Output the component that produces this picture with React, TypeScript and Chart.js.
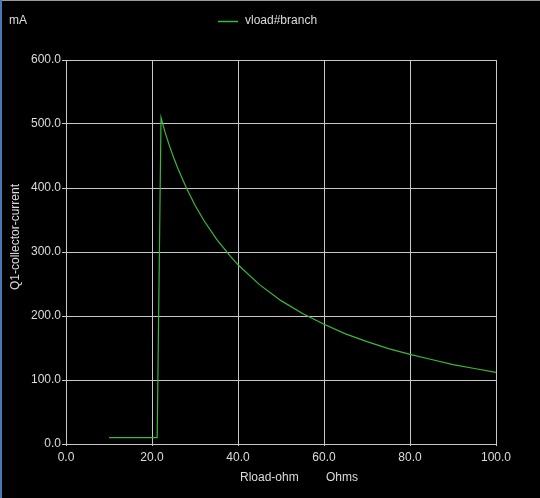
import React, { useEffect, useRef } from "react";
import { Chart, registerables } from "chart.js";

Chart.register(...registerables);

const seriesName = "vload#branch";
const rload = [10, 21.2, 22.1, 23, 24, 25, 26, 28, 30, 32, 35, 38, 40, 45, 50, 55, 60, 65, 70, 75, 80, 85, 90, 95, 100];
const current = [10, 10, 510, 488, 467, 448, 431, 400, 373, 350, 320, 295, 280, 249, 224, 204, 187, 172, 160, 149, 140, 132, 124, 118, 112];
const yTitle = "Q1-collector-current";
const yUnit = "mA";
const xTitle = "Rload-ohm";
const xUnit = "Ohms";

const FONT = "'Liberation Sans', Arial, sans-serif";
const TEXT = "#dcdcdc";
const GRID = "#c8c8c8";
const LINE = "#3cb83c";

const textPlugin = {
  id: "texts",
  afterDraw(chart: any) {
    const { ctx } = chart;
    ctx.save();
    ctx.fillStyle = TEXT;
    ctx.font = `12px ${FONT}`;
    ctx.textBaseline = "middle";
    ctx.textAlign = "left";
    ctx.fillText(yUnit, 9, 21);
    // legend
    ctx.strokeStyle = LINE;
    ctx.lineWidth = 1.5;
    ctx.beginPath();
    ctx.moveTo(218, 21.5);
    ctx.lineTo(238, 21.5);
    ctx.stroke();
    ctx.fillText(seriesName, 245, 21);
    // x title
    ctx.fillText(xTitle, 240, 478);
    ctx.fillText(xUnit, 326, 478);
    // y title
    ctx.translate(16, 237);
    ctx.rotate(-Math.PI / 2);
    ctx.textAlign = "center";
    ctx.fillText(yTitle, 0, 0);
    ctx.restore();
  },
};

export default function App() {
  const ref = useRef<HTMLCanvasElement>(null);
  useEffect(() => {
    document.body.style.margin = "0";
    document.body.style.background = "#000";
    const chart = new Chart(ref.current!, {
      type: "line",
      data: {
        datasets: [
          {
            label: seriesName,
            data: rload.map((x, i) => ({ x, y: current[i] })),
            borderColor: LINE,
            borderWidth: 1.2,
            pointRadius: 0,
            tension: 0,
            fill: false,
          },
        ],
      },
      options: {
        responsive: false,
        animation: false,
        layout: { padding: { left: 0, right: 44, top: 60, bottom: 0 } },
        plugins: { legend: { display: false }, tooltip: { enabled: false } },
        scales: {
          x: {
            type: "linear",
            min: 0,
            max: 100,
            afterFit(s: any) {
              s.height = 54;
            },
            ticks: {
              stepSize: 20,
              color: TEXT,
              font: { family: FONT, size: 12 },
              padding: 4,
              maxRotation: 0,
              callback: (v: any) => Number(v).toFixed(1),
            },
            grid: { color: GRID, lineWidth: 1, tickLength: 2 },
            border: { color: GRID },
          },
          y: {
            min: 0,
            max: 600,
            afterFit(s: any) {
              s.width = 66;
            },
            ticks: {
              stepSize: 100,
              color: TEXT,
              font: { family: FONT, size: 12 },
              padding: 1,
              callback: (v: any) => Number(v).toFixed(1),
            },
            grid: { color: GRID, lineWidth: 1, tickLength: 4 },
            border: { color: GRID },
          },
        },
      },
      plugins: [textPlugin],
    });
    return () => chart.destroy();
  }, []);
  return (
    <div style={{ position: "relative", width: 540, height: 498, background: "#000" }}>
      <canvas ref={ref} width={540} height={498} style={{ display: "block" }} />
      <div style={{ position: "absolute", left: 0, top: 0, width: 540, height: 1, background: "#9a9a9a" }} />
      <div style={{ position: "absolute", left: 0, top: 0, width: 2, height: 498, background: "#4a78b0" }} />
    </div>
  );
}
